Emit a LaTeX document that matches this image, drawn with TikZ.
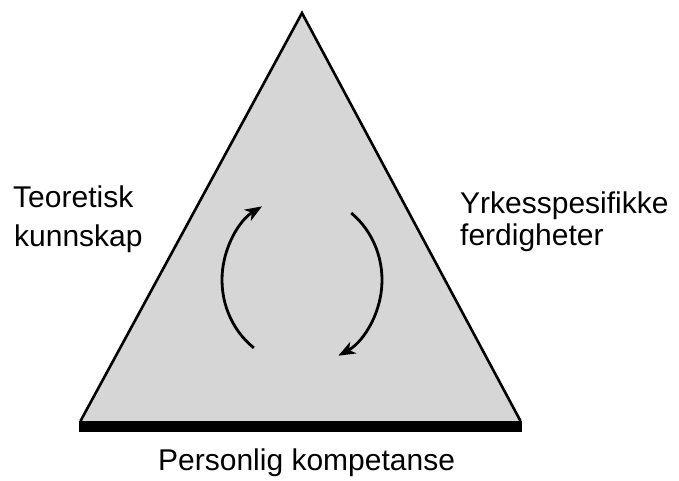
\documentclass[tikz,border=0pt]{standalone}
\usepackage{fontspec}
\setmainfont{Liberation Sans}
\usetikzlibrary{arrows.meta}
\definecolor{trifill}{gray}{0.84}
\tikzset{
  lbl/.style={anchor=base west, inner sep=0pt, font=\fontsize{30}{36}\selectfont},
  side/.style={line width=2.6pt, line join=miter},
  basebar/.style={line width=11pt, line cap=butt},
  cyc/.style={line width=2.8pt, -{Stealth[length=17pt,width=13pt,inset=5pt]}}
}
\begin{document}
\begin{tikzpicture}[x=1pt,y=-1pt]
\useasboundingbox (0,0) rectangle (679,481);
\coordinate (A) at (302,13);
\coordinate (L) at (79,426);
\coordinate (R) at (522,426);
\coordinate (Lt) at (80.5,421);
\coordinate (Rt) at (520.5,421);
\coordinate (C) at (302,280);
\fill[trifill] (L) -- (A) -- (R) -- cycle;
\draw[side] (Lt) -- (A) -- (Rt);
\draw[basebar] (L) -- (R);
\draw[cyc] (C) ++(233:80pt and 85pt) arc[start angle=233,end angle=120,x radius=80pt,y radius=85pt];
\draw[cyc] (C) ++(52:80pt and 85pt) arc[start angle=52,end angle=-63,x radius=80pt,y radius=85pt];
\node[lbl] (t1) at (13,207) {Teoretisk};
\node[lbl] (t2) at (14,246) {kunnskap};
\node[lbl] (y1) at (460,213) {Yrkesspesifikke};
\node[lbl] (y2) at (460,245) {ferdigheter};
\node[lbl] (p) at (158,470) {Personlig kompetanse};
\end{tikzpicture}
\end{document}
